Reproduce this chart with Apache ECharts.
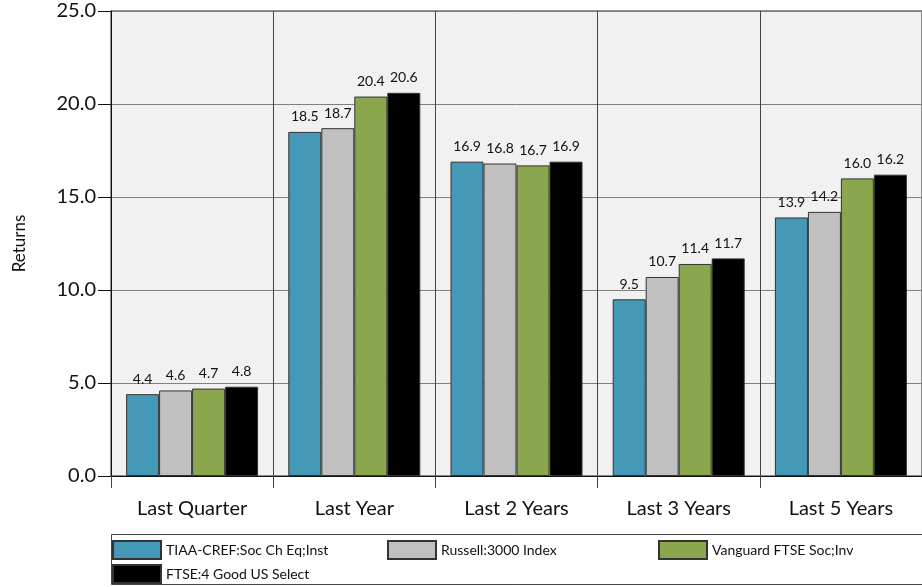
<!DOCTYPE html>
<html>
<head>
<meta charset="utf-8">
<script src="https://cdn.jsdelivr.net/npm/echarts@6/dist/echarts.min.js"></script>
<style>html,body{margin:0;padding:0;background:#fff;}#c{width:922px;height:587px;}</style>
</head>
<body>
<div id="c"></div>
<script>
const categories = ['Last Quarter', 'Last Year', 'Last 2 Years', 'Last 3 Years', 'Last 5 Years'];
const seriesNames = ['TIAA-CREF:Soc Ch Eq;Inst', 'Russell:3000 Index', 'Vanguard FTSE Soc;Inv', 'FTSE:4 Good US Select'];
const tiaa = [4.4, 18.5, 16.9, 9.5, 13.9];
const russell = [4.6, 18.7, 16.8, 10.7, 14.2];
const vanguard = [4.7, 20.4, 16.7, 11.4, 16.0];
const ftse = [4.8, 20.6, 16.9, 11.7, 16.2];
const yTicks = [0, 5, 10, 15, 20, 25];

const colors = ['#4598b6', '#c0c0c0', '#8aa74e', '#000000'];
const values = [tiaa, russell, vanguard, ftse];
const FONT = 'Lato';

const chart = echarts.init(document.getElementById('c'));
const legendPos = [[112, 540], [387, 540], [658, 540], [112, 564]];

chart.setOption({
  animation: false,
  textStyle: { fontFamily: FONT },
  grid: {
    left: 111, top: 11, width: 818, height: 465,
    show: true, backgroundColor: '#f1f1f1', borderColor: '#222', borderWidth: 1,
    containLabel: false
  },
  graphic: [{
    type: 'rect', left: 111, top: 534, z: -1,
    shape: { width: 820, height: 50 },
    style: { fill: '#fff', stroke: '#444', lineWidth: 1 }
  }],
  legend: seriesNames.map((n, i) => ({
    data: [n], left: legendPos[i][0], top: legendPos[i][1],
    itemWidth: 48, itemHeight: 18, itemGap: 5, padding: 0,
    icon: 'rect', selectedMode: false,
    textStyle: { fontFamily: FONT, fontSize: 14, color: '#111' }
  })),
  xAxis: {
    type: 'category', data: categories,
    axisLine: { lineStyle: { color: '#111', width: 1 } },
    axisTick: { show: true, length: 12, lineStyle: { color: '#444' } },
    splitLine: { show: true, lineStyle: { color: '#444', width: 1 } },
    axisLabel: { margin: 23, fontSize: 20, color: '#111', fontFamily: FONT }
  },
  yAxis: {
    type: 'value', min: 0, max: 25, interval: 5,
    name: 'Returns', nameLocation: 'middle', nameGap: 83, nameRotate: 90,
    nameTextStyle: { fontSize: 17, color: '#111', fontFamily: FONT },
    axisLine: { show: true, lineStyle: { color: '#111', width: 1 } },
    axisTick: { show: true, length: 13, lineStyle: { color: '#111' } },
    splitLine: { show: true, lineStyle: { color: '#808080', width: 1 } },
    axisLabel: {
      margin: 15, fontSize: 20, color: '#111', fontFamily: FONT,
      formatter: v => yTicks.includes(v) ? v.toFixed(1) : ''
    }
  },
  series: values.map((d, i) => ({
    name: seriesNames[i], type: 'bar', data: d,
    barWidth: 33, barGap: '0%',
    itemStyle: { color: colors[i], borderColor: '#333', borderWidth: 1 },
    label: {
      show: true, position: 'top', distance: 8,
      fontSize: 14, color: '#111', fontFamily: FONT,
      formatter: p => p.value.toFixed(1)
    }
  }))
});
</script>
</body>
</html>
